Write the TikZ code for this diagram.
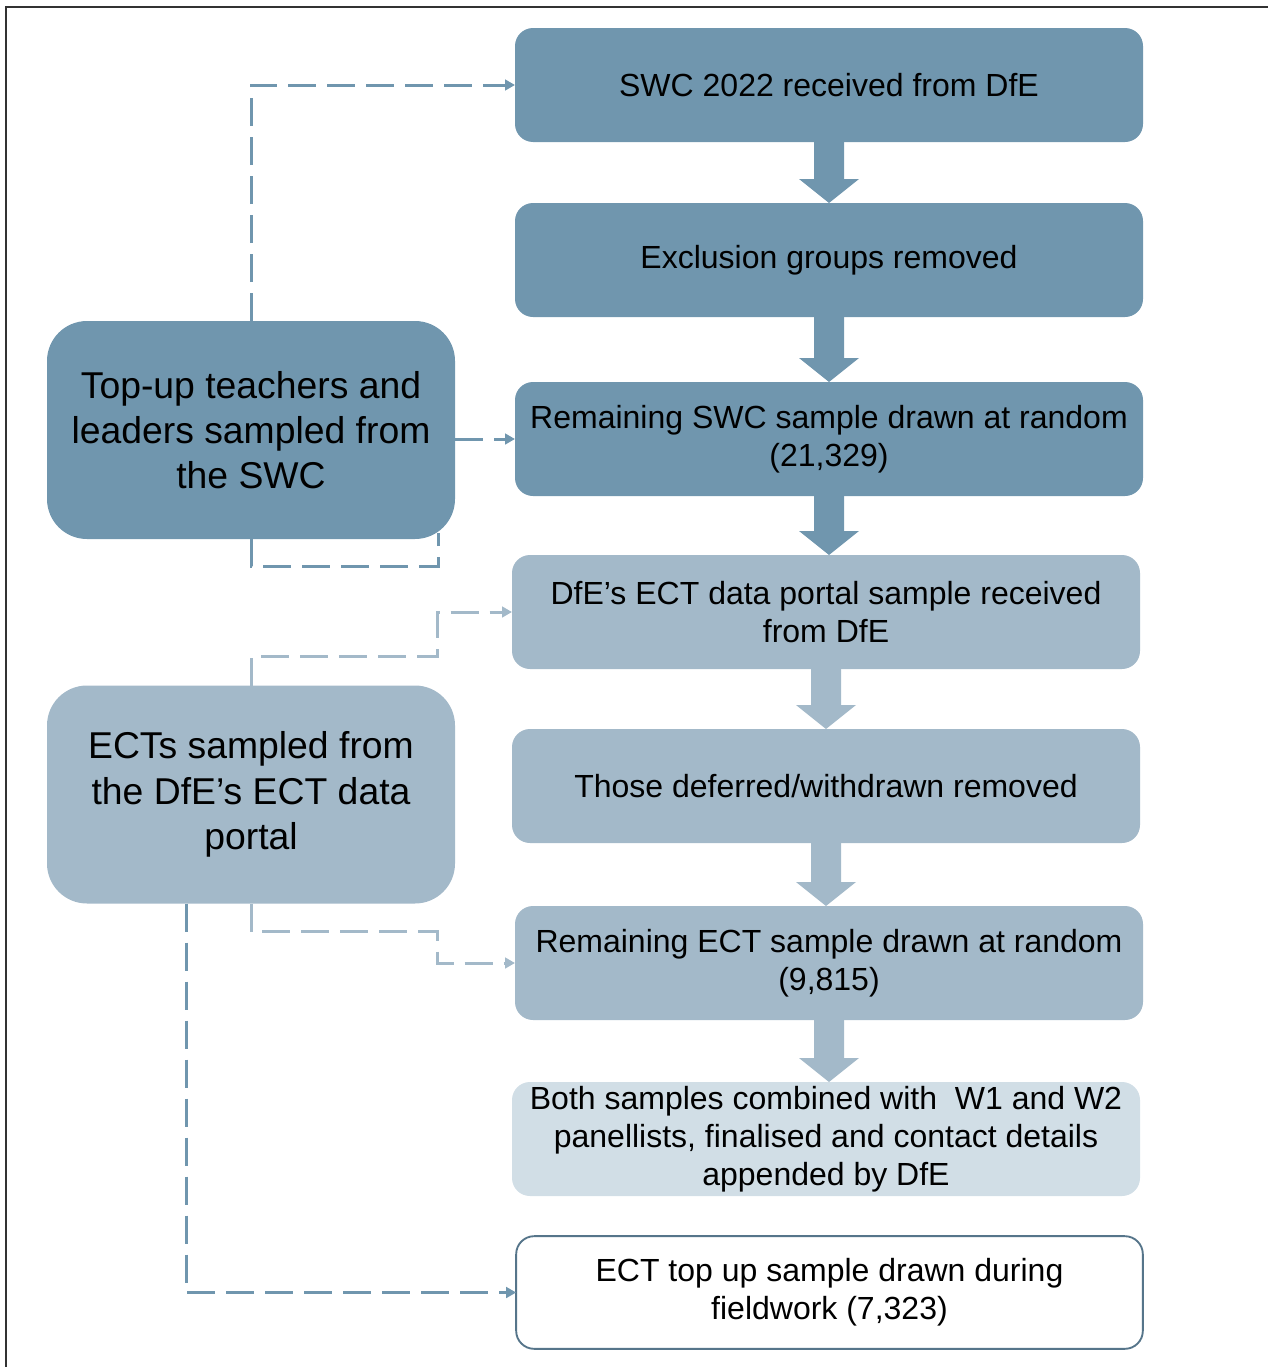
\documentclass[tikz,border=0pt]{standalone}
\usepackage{fontspec}
\setmainfont{Liberation Sans}
\usetikzlibrary{arrows.meta,calc}
\definecolor{cdark}{RGB}{112,150,174}
\definecolor{clight}{RGB}{163,185,201}
\definecolor{cpale}{RGB}{209,222,230}
\definecolor{cborder}{RGB}{86,117,138}
\definecolor{cframe}{RGB}{50,50,50}
\tikzset{
  rbox/.style={rounded corners=13.5pt, minimum width=471pt, minimum height=85.5pt, inner sep=0pt, outer sep=0pt, align=center, font=\fontsize{24}{28.5}\selectfont, text=black},
  lbox/.style={rounded corners=30pt, minimum width=306pt, minimum height=163.5pt, inner sep=0pt, outer sep=0pt, align=center, font=\fontsize{28}{34}\selectfont, text=black},
  dashbase/.style={line width=2.25pt, dash pattern=on 21pt off 8.25pt},
  dashdark/.style={dashbase, draw=cdark},
  dashlight/.style={dashbase, draw=clight},
  tip/.style={-{Triangle[length=7.5pt,width=8pt]}},
}
\newcommand\blockarr[3]{%
  \fill[#3] ([xshift=-11.25pt]#1.south) -- ([xshift=-11.25pt,yshift=18pt]#1.south |- #2.north)
    -- ([xshift=-22.5pt,yshift=18pt]#1.south |- #2.north) -- (#1.south |- #2.north)
    -- ([xshift=22.5pt,yshift=18pt]#1.south |- #2.north) -- ([xshift=11.25pt,yshift=18pt]#1.south |- #2.north)
    -- ([xshift=11.25pt]#1.south) -- cycle;}
\begin{document}
\begin{tikzpicture}[x=0.75pt,y=-0.75pt]
\useasboundingbox (0,0) rectangle (1268,1367);
\draw[cframe, line width=1.6pt] (6,1367) -- (6,7) -- (1268,7);

\node[rbox, fill=cdark] (b1) at (829,85) {SWC 2022 received from DfE};
\node[rbox, fill=cdark] (b2) at (829,260) {Exclusion groups removed};
\node[rbox, fill=cdark] (b3) at (829,439) {Remaining SWC sample drawn at random\\(21,329)};
\node[rbox, fill=clight] (b4) at (826,612) {DfE’s ECT data portal sample received\\from DfE};
\node[rbox, fill=clight] (b5) at (826,786) {Those deferred/withdrawn removed};
\node[rbox, fill=clight] (b6) at (829,963) {Remaining ECT sample drawn at random\\(9,815)};
\node[rbox, fill=cpale] (b7) at (826,1139) {Both samples combined with\ \ W1 and W2\\panellists, finalised and contact details\\appended by DfE};
\node[rbox, fill=white, draw=cborder, line width=1.4pt, minimum width=470pt, minimum height=84.5pt] (b8) at (829.5,1292.5) {ECT top up sample drawn during\\fieldwork (7,323)};

\node[lbox, fill=cdark] (A) at (251,430) {Top-up teachers and\\leaders sampled from\\the SWC};
\node[lbox, fill=clight] (B) at (251,794.5) {ECTs sampled from\\the DfE’s ECT data\\portal};

\blockarr{b1}{b2}{cdark}
\blockarr{b2}{b3}{cdark}
\blockarr{b3}{b4}{cdark}
\blockarr{b4}{b5}{clight}
\blockarr{b5}{b6}{clight}
\blockarr{b6}{b7}{clight}

\draw[dashdark, tip] (A.north) |- (b1.west);
\draw[dashdark, tip] (A.east |- b3.west) -- (b3.west);
\draw[dashdark] (A.south) -- ++(0,27) -- ++(187,0) -- ++(0,-33);
\draw[dashlight, tip] (B.north) -- ++(0,-29) -- ++(186,0) |- (b4.west);
\draw[dashlight, tip] (B.south) -- ++(0,28) -- ++(186,0) |- (b6.west);
\draw[dashdark, tip] ([xshift=-48.75pt]B.south) |- (b8.west);
\end{tikzpicture}
\end{document}
